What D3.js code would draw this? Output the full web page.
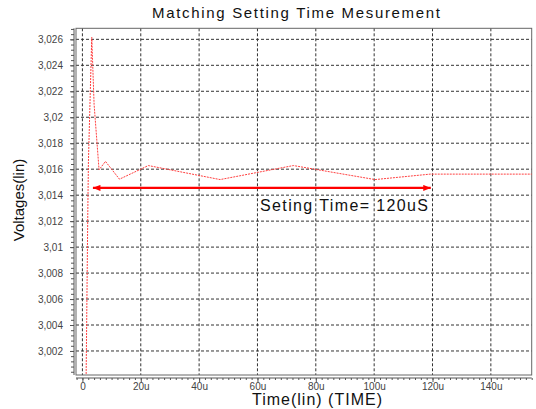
<!DOCTYPE html>
<html>
<head>
<meta charset="utf-8">
<script src="https://cdn.jsdelivr.net/npm/d3@7"></script>
<style>
  body { margin: 0; background: #fff; }
  svg { display: block; font-family: "Liberation Sans", Arial, sans-serif; }
  .axis path, .axis line { stroke: #555; }
  .axis text { fill: #444; font-size: 10px; }
</style>
</head>
<body>
<svg width="536" height="409"></svg>
<script>
// waveform, time in u (microseconds), volts
var timeU = [1.27, 1.85, 2.06, 3.2, 4.0, 5.7, 7.9, 12.7, 22.6, 47.2, 72.3, 100.3, 119.2, 155];
var volts = [3.0, 3.0128, 3.0166, 3.02615, 3.021, 3.01595, 3.0166, 3.01523, 3.01628, 3.0152, 3.01628, 3.0152, 3.01562, 3.01562];

var xTicks = [0, 20, 40, 60, 80, 100, 120, 140];
var yTicks = [3.002, 3.004, 3.006, 3.008, 3.01, 3.012, 3.014, 3.016, 3.018, 3.02, 3.022, 3.024, 3.026];

// settling-time arrow
var arrowT = [3.6, 119.4];
var arrowV = 3.01456;

var frame = {left: 76, right: 531.7, top: 28.3, bottom: 375};

var svg = d3.select("svg");

var x = d3.scaleLinear().domain([-2.2, 154]).range([frame.left, frame.right]);
var y = d3.scaleLinear().domain([3.00015, 3.02685]).range([frame.bottom, frame.top]);

var loc = d3.formatLocale({decimal: ",", thousands: ".", grouping: [3], currency: ["", ""]});
var fmtV = loc.format(".3~f");

// grid
svg.append("g").selectAll("line").data(xTicks).join("line")
    .attr("x1", d => x(d)).attr("x2", d => x(d))
    .attr("y1", frame.top).attr("y2", frame.bottom)
    .attr("stroke", "#333").attr("stroke-dasharray", "3,2");
svg.append("g").selectAll("line").data(yTicks).join("line")
    .attr("x1", frame.left).attr("x2", frame.right)
    .attr("y1", d => y(d)).attr("y2", d => y(d))
    .attr("stroke", "#333").attr("stroke-dasharray", "3,2");

// frame
svg.append("rect")
    .attr("x", frame.left).attr("y", frame.top)
    .attr("width", frame.right - frame.left).attr("height", frame.bottom - frame.top)
    .attr("fill", "none").attr("stroke", "#666");

// y axis
var yMinor = d3.range(3.0004, 3.0268, 0.0004);
svg.append("g").attr("class", "axis")
    .attr("transform", "translate(74,0)")
    .call(d3.axisLeft(y).tickValues(yMinor).tickSize(3).tickFormat(""))
    .call(g => g.select(".domain").remove());
svg.append("g").attr("class", "axis")
    .attr("transform", "translate(74,0)")
    .call(d3.axisLeft(y).tickValues(yTicks).tickSize(4).tickPadding(7).tickFormat(fmtV))
    .call(g => g.select(".domain").attr("d", "M0," + frame.top + "V" + frame.bottom));

// x axis
var xMinor = d3.range(-2, 155, 2);
svg.append("g").attr("class", "axis")
    .attr("transform", "translate(0,378)")
    .call(d3.axisBottom(x).tickValues(xMinor).tickSize(2).tickFormat(""))
    .call(g => g.select(".domain").remove());
svg.append("g").attr("class", "axis")
    .attr("transform", "translate(0,378)")
    .call(d3.axisBottom(x).tickValues(xTicks).tickSize(4).tickPadding(1).tickFormat(d => d === 0 ? "0" : d + "u"))
    .call(g => g.select(".domain").attr("d", "M" + frame.left + ",0H" + frame.right));

// data line
svg.append("clipPath").attr("id", "clip").append("rect")
    .attr("x", frame.left).attr("y", frame.top)
    .attr("width", frame.right - frame.left).attr("height", frame.bottom - frame.top);

var line = d3.line().x(d => x(d[0])).y(d => y(d[1]));
svg.append("path")
    .datum(timeU.map((t, i) => [t, volts[i]]))
    .attr("clip-path", "url(#clip)")
    .attr("d", line)
    .attr("fill", "none")
    .attr("stroke", "#ff4040")
    .attr("stroke-width", 1)
    .attr("stroke-dasharray", "2,1");

// arrow
var defs = svg.append("defs");
defs.append("marker").attr("id", "head")
    .attr("viewBox", "0 0 10 8").attr("refX", 10).attr("refY", 4)
    .attr("markerWidth", 8).attr("markerHeight", 6).attr("markerUnits", "userSpaceOnUse")
    .attr("orient", "auto-start-reverse")
    .append("path").attr("d", "M0,0L10,4L0,8Z").attr("fill", "#ff0000");
svg.append("line")
    .attr("x1", x(arrowT[0])).attr("x2", x(arrowT[1]))
    .attr("y1", y(arrowV)).attr("y2", y(arrowV))
    .attr("stroke", "#ff0000").attr("stroke-width", 2.2)
    .attr("marker-start", "url(#head)").attr("marker-end", "url(#head)");

svg.append("text")
    .attr("x", 260).attr("y", 211)
    .attr("textLength", 168)
    .attr("font-size", 16).attr("fill", "#111")
    .text("Seting Time= 120uS");

// titles
svg.append("text")
    .attr("x", 296).attr("y", 17.5).attr("text-anchor", "middle")
    .attr("textLength", 288)
    .attr("font-size", 15).attr("fill", "#111")
    .text("Matching Setting Time Mesurement");

svg.append("text")
    .attr("x", 317).attr("y", 405).attr("text-anchor", "middle")
    .attr("textLength", 130)
    .attr("font-size", 16).attr("fill", "#111")
    .text("Time(lin) (TIME)");

svg.append("text")
    .attr("transform", "translate(24,200) rotate(-90)")
    .attr("text-anchor", "middle")
    .attr("font-size", 15).attr("fill", "#111")
    .text("Voltages(lin)");
</script>
</body>
</html>
